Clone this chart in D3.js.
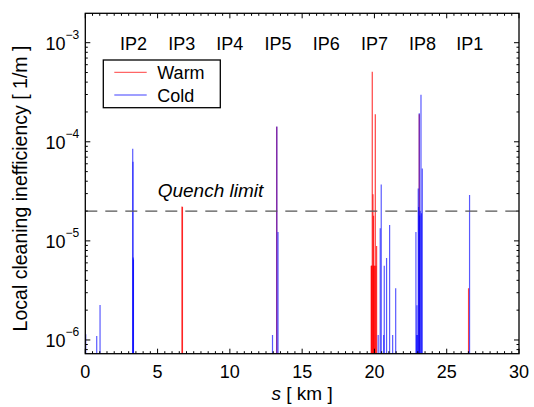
<!DOCTYPE html>
<html>
<head>
<meta charset="utf-8">
<script src="https://cdn.jsdelivr.net/npm/d3@7"></script>
<style>
  body { margin: 0; background: #fff; }
  svg { font-family: Arial, "Liberation Sans", sans-serif; }
</style>
</head>
<body>
<svg id="chart" width="534" height="407"></svg>
<script>
// positions along the ring [km] and loss values [1/m]
const coldS = [0.03, 0.79, 1.02, 3.28, 3.30, 3.31, 3.33, 12.95, 13.25, 13.33,
  20.26, 20.40, 20.47, 20.64, 20.68, 20.84, 21.05, 21.26, 21.47,
  22.87, 22.92, 22.94, 22.98, 23.03, 23.06, 23.10, 23.13, 23.16, 23.22, 23.25, 23.31, 26.58];
const coldV = [1.14e-6, 1.1e-6, 2.26e-6, 8.5e-5, 6.3e-5, 6.8e-6, 6.5e-6, 1.12e-6, 1.43e-4, 1.23e-5,
  1.12e-6, 1.34e-5, 3.7e-5, 1.12e-6, 5.6e-6, 6.7e-6, 1.45e-5, 1.12e-6, 3.33e-6,
  1.23e-5, 1.12e-6, 2.24e-6, 1.12e-6, 3.37e-5, 2.2e-5, 1.94e-4, 1.8e-5, 2.0e-5, 2.98e-4, 1.9e-5, 5.37e-5, 2.9e-5];

const warmS = [6.69, 6.72, 13.24, 19.78, 19.80, 19.83, 19.85, 19.90, 19.92, 19.94, 19.98,
  20.02, 20.06, 20.10, 20.15, 23.10, 26.51];
const warmV = [2.22e-5, 2.2e-5, 1.42e-4, 5.6e-6, 5.6e-6, 5.6e-6, 5.1e-4, 2.96e-5, 5.6e-6, 1.79e-5, 5.6e-6,
  5.6e-6, 1.9e-4, 5.6e-6, 8.9e-6, 1.9e-4, 3.33e-6];

const ipNames = ['IP2', 'IP3', 'IP4', 'IP5', 'IP6', 'IP7', 'IP8', 'IP1'];
const ipS = [3.33, 6.67, 10.0, 13.33, 16.66, 20.0, 23.33, 26.6];

const xTicks = [0, 5, 10, 15, 20, 25, 30];
const yDecades = [-6, -5, -4, -3];
const quenchLimit = 2e-5;

const svg = d3.select('#chart');
const margin = { left: 85.3, right: 15, top: 13.3, bottom: 53.3 };
const W = 534, H = 407;

const x = d3.scaleLinear().domain([0, 30]).range([margin.left, W - margin.right]);
const y = d3.scaleLog().domain([7.27e-7, 1.98e-3]).range([H - margin.bottom, margin.top]);

const x0 = x.range()[0], x1 = x.range()[1];
const y0 = y.range()[0], y1 = y.range()[1];

svg.append('clipPath').attr('id', 'plotclip')
  .append('rect').attr('x', x0).attr('y', y1).attr('width', x1 - x0).attr('height', y0 - y1);

const plot = svg.append('g').attr('clip-path', 'url(#plotclip)');

// spikes: warm first, cold on top (overlaps turn purple)
const cold = coldS.map((s, i) => ({ s, v: coldV[i] }));
const warm = warmS.map((s, i) => ({ s, v: warmV[i] }));

plot.selectAll('.warm').data(warm).enter().append('line')
  .attr('x1', d => x(d.s)).attr('x2', d => x(d.s))
  .attr('y1', y0).attr('y2', d => y(d.v))
  .attr('stroke', '#ff0000').attr('stroke-width', 1.2).attr('stroke-opacity', 0.75);

plot.selectAll('.cold').data(cold).enter().append('line')
  .attr('x1', d => x(d.s)).attr('x2', d => x(d.s))
  .attr('y1', y0).attr('y2', d => y(d.v))
  .attr('stroke', '#0000ff').attr('stroke-width', 1.2).attr('stroke-opacity', 0.65);

// quench limit
svg.append('line')
  .attr('x1', x0).attr('x2', x1)
  .attr('y1', y(quenchLimit)).attr('y2', y(quenchLimit))
  .attr('stroke', '#555').attr('stroke-width', 1.3)
  .attr('stroke-dasharray', '12,8');

svg.append('text')
  .attr('x', 157.7).attr('y', 197)
  .style('font-size', '19px').style('font-style', 'italic')
  .text('Quench limit');

// frame
svg.append('rect')
  .attr('x', x0).attr('y', y1).attr('width', x1 - x0).attr('height', y0 - y1)
  .attr('fill', 'none').attr('stroke', '#000').attr('stroke-width', 1.3);

// x ticks (inward, bottom and top)
const xMinor = d3.range(0, 30.01, 0.5);
const tickG = svg.append('g').attr('stroke', '#000').attr('stroke-width', 1);
xMinor.forEach(v => {
  const major = xTicks.includes(v);
  const len = major ? 5 : 2.5;
  tickG.append('line').attr('x1', x(v)).attr('x2', x(v)).attr('y1', y0).attr('y2', y0 - len);
  tickG.append('line').attr('x1', x(v)).attr('x2', x(v)).attr('y1', y1).attr('y2', y1 + len);
});

// y ticks (inward, left and right)
const yMinor = [];
for (let e = -7; e <= -3; e++) {
  for (let m = 1; m <= 9; m++) {
    const v = m * Math.pow(10, e);
    if (v >= y.domain()[0] && v <= y.domain()[1]) yMinor.push({ v, major: m === 1 });
  }
}
yMinor.forEach(d => {
  const len = d.major ? 5 : 2.5;
  tickG.append('line').attr('x1', x0).attr('x2', x0 + len).attr('y1', y(d.v)).attr('y2', y(d.v));
  tickG.append('line').attr('x1', x1).attr('x2', x1 - len).attr('y1', y(d.v)).attr('y2', y(d.v));
});

// x tick labels
svg.append('g').selectAll('text').data(xTicks).enter().append('text')
  .attr('x', d => x(d)).attr('y', 378)
  .attr('text-anchor', 'middle')
  .style('font-size', '18px')
  .text(d => d);

// y tick labels: 10^e
const yl = svg.append('g').selectAll('text').data(yDecades).enter().append('text')
  .attr('x', x0 - 6).attr('y', d => y(Math.pow(10, d)) + 7)
  .attr('text-anchor', 'end')
  .style('font-size', '18px');
yl.append('tspan').text('10');
yl.append('tspan').attr('dy', -11).style('font-size', '12px').text(d => '\u2212' + Math.abs(d));

// IP labels
svg.append('g').selectAll('text').data(ipNames).enter().append('text')
  .attr('x', (d, i) => x(ipS[i])).attr('y', 50)
  .attr('text-anchor', 'middle')
  .style('font-size', '18px')
  .text(d => d);

// legend
const lg = svg.append('g');
lg.append('rect').attr('x', 103.3).attr('y', 60).attr('width', 117).attr('height', 47.7)
  .attr('fill', '#fff').attr('stroke', '#000').attr('stroke-width', 1.3);
lg.append('line').attr('x1', 114.3).attr('x2', 146.7).attr('y1', 72.3).attr('y2', 72.3)
  .attr('stroke', '#ff0000').attr('stroke-opacity', 0.6).attr('stroke-width', 1.2);
lg.append('line').attr('x1', 114.3).attr('x2', 146.7).attr('y1', 95).attr('y2', 95)
  .attr('stroke', '#0000ff').attr('stroke-opacity', 0.75).attr('stroke-width', 1.2);
lg.append('text').attr('x', 157.3).attr('y', 79).style('font-size', '18px').text('Warm');
lg.append('text').attr('x', 157.3).attr('y', 101.7).style('font-size', '18px').text('Cold');

// axis titles
const xt = svg.append('text')
  .attr('x', (x0 + x1) / 2).attr('y', 400)
  .attr('text-anchor', 'middle')
  .style('font-size', '19px');
xt.append('tspan').style('font-style', 'italic').text('s');
xt.append('tspan').text(' [ km ]');

svg.append('text')
  .attr('transform', `translate(27, ${(y0 + y1) / 2 + 5}) rotate(-90)`)
  .attr('text-anchor', 'middle')
  .style('font-size', '19.5px')
  .text('Local cleaning inefficiency [ 1/m ]');
</script>
</body>
</html>
